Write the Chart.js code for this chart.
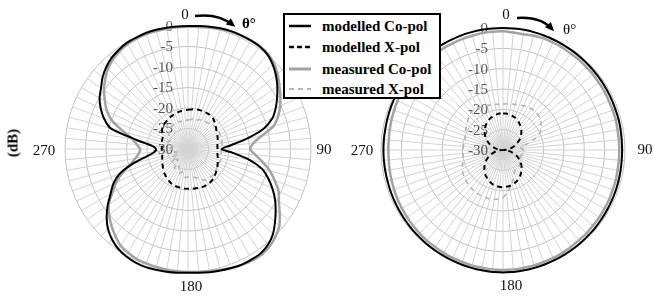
<!DOCTYPE html>
<html>
<head>
<meta charset="utf-8">
<script src="https://cdn.jsdelivr.net/npm/chart.js@4.4.0/dist/chart.umd.min.js"></script>
<style>
  html, body { margin: 0; padding: 0; background: #fff; }
  body { width: 654px; height: 297px; position: relative; overflow: hidden; font-family: "Liberation Serif", "Times New Roman", serif; }
  canvas { position: absolute; top: 0; }
  #cA { left: 0; }
  #cB { left: 330px; }
  #legend { position: absolute; left: 283px; top: 13px; width: 158px; height: 86px; box-sizing: border-box; border: 2px solid #000; background: #fff; z-index: 5; }
  .row { position: absolute; left: 0; height: 20px; width: 100%; }
  .row svg { position: absolute; left: 4px; top: 4px; }
  .row span { position: absolute; left: 37px; top: 0; font-weight: bold; font-size: 15px; line-height: 20px; color: #000; white-space: nowrap; }
  #db { position: absolute; left: 13px; top: 143px; transform: translate(-50%, -50%) rotate(-90deg); font-weight: bold; font-size: 15px; white-space: nowrap; }
</style>
</head>
<body>
<canvas id="cA" width="340" height="297"></canvas>
<canvas id="cB" width="324" height="297"></canvas>
<div id="db">(dB)</div>
<div id="legend"></div>
<script>
// ---- categories (angle in degrees, every 5°) ----
const angles = [0,5,10,15,20,25,30,35,40,45,50,55,60,65,70,75,80,85,
  90,95,100,105,110,115,120,125,130,135,140,145,150,155,160,165,170,175,
  180,185,190,195,200,205,210,215,220,225,230,235,240,245,250,255,260,265,
  270,275,280,285,290,295,300,305,310,315,320,325,330,335,340,345,350,355];

// radial tick labels (dB) and cardinal angle labels
const tickValues = [0, -5, -10, -15, -20, -25, -30];
const cardinalLabels = ['0', '90', '180', '270'];
const cardinalAngles = [0, 90, 180, 270];

const seriesNames = ['modelled Co-pol', 'modelled X-pol', 'measured Co-pol', 'measured X-pol'];

// ---- left plot ----
const leftModelledCo = [0,0.1,0.3,0.5,0.6,0.6,0.6,0.5,0.1,-0.8,-2.0,-3.4,-4.9,-6.4,-8.1,-10.9,-15.4,-19.5,
  -21.8,-19.0,-14.8,-11.3,-9.2,-7.3,-5.5,-3.9,-2.3,-0.7,0.4,1.0,1.1,1.1,0.9,0.7,0.5,0.3,
  0.2,0.3,0.4,0.5,0.6,0.5,0.2,-0.3,-1.2,-2.4,-4.1,-6.1,-8.2,-9.9,-12.2,-16.0,-19.8,-21.8,
  -22.2,-21.2,-17.3,-10.5,-8.2,-6.5,-5.1,-4.1,-2.8,-1.8,-1.0,-0.5,-0.1,0,0.1,0.1,0.05,0];
const leftModelledX = [-20.4,-20.3,-20.2,-20.1,-20.1,-20.1,-20.1,-20.2,-20.4,-20.8,-21.2,-21.6,-21.9,-22.1,-22.3,-22.5,-22.7,-22.8,
  -22.8,-22.8,-22.7,-22.5,-22.3,-22.0,-21.7,-21.4,-21.1,-20.8,-20.5,-20.3,-20.1,-20.1,-20.1,-20.2,-20.2,-20.3,
  -20.3,-20.3,-20.4,-20.4,-20.5,-20.6,-20.9,-21.2,-21.5,-21.8,-22.1,-22.5,-22.8,-23.1,-23.3,-23.5,-23.6,-23.6,
  -23.6,-23.6,-23.5,-23.4,-23.3,-23.2,-22.8,-22.3,-21.8,-21.6,-21.5,-21.3,-21.1,-21.0,-20.9,-20.7,-20.6,-20.5];
const leftMeasuredCo = [-0.2,-0.1,0.1,0.3,0.5,0.6,0.6,0.6,0.3,-0.4,-1.5,-2.8,-4.0,-5.2,-6.6,-8.4,-11.8,-14.0,
  -14.8,-13.5,-11.5,-9.3,-7.5,-5.6,-4.4,-2.7,-0.9,0.2,1.0,1.4,1.4,1.2,0.9,0.5,0.3,0.1,
  0,-0.1,-0.1,-0.2,-0.3,-0.4,-0.8,-1.3,-2.4,-3.6,-4.9,-6.4,-8.7,-10.7,-13.0,-15.4,-17.0,-18.0,
  -18.3,-17.5,-16.3,-13.8,-10.5,-8.2,-6.6,-5.0,-3.6,-2.4,-1.5,-0.9,-0.5,-0.3,-0.2,-0.2,-0.2,-0.2];
const leftMeasuredX = [-22.9,-22.8,-22.6,-22.8,-22.4,-22.2,-22.0,-22.1,-21.8,-21.6,-21.4,-21.3,-21.3,-21.4,-21.5,-21.5,-21.6,-21.7,
  -21.8,-21.9,-21.8,-21.7,-21.6,-21.7,-21.7,-21.5,-21.4,-21.2,-21.2,-21.3,-21.2,-21.8,-22.4,-22.8,-23.0,-23.2,
  -23.2,-23.0,-23.5,-24.3,-23.6,-24.8,-25.5,-24.2,-25.8,-26.5,-25.0,-26.2,-27.0,-25.8,-26.4,-27.2,-26.0,-25.6,
  -26.0,-25.2,-26.3,-25.0,-24.6,-25.2,-24.7,-24.3,-24.0,-23.6,-23.3,-23.2,-23.1,-23.3,-22.9,-23.1,-22.9,-23.0];

// ---- right plot ----
const rightModelledCo = [0,0,0,-0.05,-0.1,-0.15,-0.2,-0.25,-0.3,-0.35,-0.4,-0.45,-0.5,-0.55,-0.6,-0.6,-0.65,-0.7,
  -0.7,-0.7,-0.65,-0.6,-0.55,-0.5,-0.45,-0.4,-0.35,-0.3,-0.25,-0.2,-0.15,-0.1,-0.05,0,0.05,0.1,
  0.1,0.1,0.05,0,-0.05,-0.1,-0.15,-0.2,-0.25,-0.3,-0.35,-0.4,-0.45,-0.5,-0.55,-0.6,-0.6,-0.6,
  -0.6,-0.6,-0.6,-0.55,-0.5,-0.45,-0.4,-0.35,-0.3,-0.25,-0.2,-0.15,-0.1,-0.05,0,0,0,0];
const rightModelledX = [-21.0,-21.0,-21.1,-21.3,-21.5,-21.8,-22.2,-22.6,-23.1,-23.6,-24.2,-24.8,-25.5,-26.2,-26.9,-27.7,-28.4,-29.2,
  -30.0,-29.2,-28.4,-27.6,-26.9,-26.1,-25.4,-24.7,-24.1,-23.5,-23.0,-22.5,-22.1,-21.7,-21.4,-21.1,-21.0,-20.9,
  -20.8,-20.9,-21.0,-21.1,-21.4,-21.7,-22.1,-22.5,-23.0,-23.5,-24.1,-24.7,-25.4,-26.1,-26.9,-27.6,-28.4,-29.2,
  -30.0,-29.2,-28.4,-27.7,-26.9,-26.2,-25.5,-24.8,-24.2,-23.6,-23.1,-22.6,-22.2,-21.8,-21.5,-21.3,-21.1,-21.0];
const rightMeasuredCo = [-0.8,-1.0,-1.1,-0.9,-0.8,-0.9,-0.9,-1.0,-1.0,-1.1,-1.1,-1.2,-1.2,-1.3,-1.3,-1.3,-1.4,-1.4,
  -1.4,-1.4,-1.4,-1.3,-1.3,-1.2,-1.2,-1.1,-1.1,-1.0,-1.0,-0.9,-0.8,-0.7,-0.7,-0.6,-0.6,-0.5,
  -0.5,-0.5,-0.6,-0.6,-0.7,-0.7,-0.8,-0.9,-0.9,-1.0,-1.1,-1.2,-1.3,-1.4,-1.5,-1.6,-1.7,-1.8,
  -1.8,-1.8,-1.7,-1.6,-1.5,-1.4,-1.3,-1.3,-1.2,-1.2,-1.1,-1.1,-1.0,-1.0,-0.9,-0.9,-0.8,-0.8];
const rightMeasuredX = [-18.7,-18.6,-18.5,-18.4,-18.2,-18.0,-17.8,-17.7,-17.7,-17.8,-18.0,-18.6,-19.2,-20.0,-21.5,-23.5,-25.5,-25.5,
  -25.0,-24.8,-25.0,-25.3,-25.5,-25.3,-25.0,-24.8,-24.6,-24.5,-24.5,-24.3,-24.2,-23.5,-22.5,-21.5,-20.5,-19.3,
  -18.3,-17.9,-17.7,-17.5,-17.5,-17.5,-17.6,-17.7,-17.8,-18.0,-18.2,-18.4,-18.6,-19.0,-19.4,-19.8,-20.0,-20.2,
  -20.2,-20.2,-20.3,-20.3,-20.1,-19.8,-19.5,-19.1,-18.7,-18.3,-17.9,-17.8,-18.0,-18.2,-18.4,-18.5,-18.6,-18.7];

// ---- styles ----
const styles = [
  { color: '#000000', width: 2, dash: [] },
  { color: '#000000', width: 2, dash: [5, 4] },
  { color: '#a3a3a3', width: 2.5, dash: [] },
  { color: '#b5b5b5', width: 1.6, dash: [5, 4] }
];

function makeDatasets(arrs) {
  return arrs.map((d, i) => ({
    label: seriesNames[i],
    data: d,
    borderColor: styles[i].color,
    borderWidth: styles[i].width,
    borderDash: styles[i].dash,
    backgroundColor: 'transparent',
    fill: false,
    pointRadius: 0,
    tension: 0.25,
    clip: false
  }));
}

const FONT = '"Liberation Serif", "Times New Roman", serif';

const polarDecor = {
  id: 'polarDecor',
  beforeDatasetsDraw(chart, args, o) {
    const s = chart.scales.r, ctx = chart.ctx;
    ctx.save();
    ctx.font = '15px ' + FONT;
    ctx.fillStyle = '#555555';
    ctx.textAlign = 'right';
    ctx.textBaseline = 'middle';
    tickValues.forEach(v => {
      const d = s.getDistanceFromCenterForValue(v);
      ctx.fillText(String(v), s.xCenter - 15, s.yCenter - d + 1);
    });
    ctx.restore();
  },
  afterDraw(chart, args, o) {
    const s = chart.scales.r, ctx = chart.ctx;
    ctx.save();
    ctx.font = '15px ' + FONT;
    ctx.fillStyle = '#111';
    ctx.textAlign = 'center';
    ctx.textBaseline = 'middle';
    cardinalAngles.forEach((a, k) => {
      const idx = angles.indexOf(a);
      const p = s.getPointPositionForValue(idx, s.max);
      const off = o.labelOffsets[k];
      ctx.fillText(cardinalLabels[k], p.x + off[0], p.y + off[1]);
    });
    // rotation arrow and theta
    const cx = s.xCenter, cy = s.yCenter, ar = o.arrow;
    ctx.strokeStyle = '#000';
    ctx.lineWidth = 2.5;
    ctx.beginPath();
    ctx.moveTo(cx + ar.sx, cy + ar.sy);
    ctx.quadraticCurveTo(cx + ar.cx, cy + ar.cy, cx + ar.ex, cy + ar.ey);
    ctx.stroke();
    const ang = Math.atan2(ar.ey - ar.cy, ar.ex - ar.cx);
    const hx = cx + ar.ex + 3 * Math.cos(ang), hy = cy + ar.ey + 3 * Math.sin(ang);
    ctx.fillStyle = '#000';
    ctx.beginPath();
    ctx.moveTo(hx, hy);
    ctx.lineTo(hx - 9 * Math.cos(ang) + 4 * Math.sin(ang), hy - 9 * Math.sin(ang) - 4 * Math.cos(ang));
    ctx.lineTo(hx - 9 * Math.cos(ang) - 4 * Math.sin(ang), hy - 9 * Math.sin(ang) + 4 * Math.cos(ang));
    ctx.closePath();
    ctx.fill();
    ctx.font = (ar.bold ? 'bold ' : '') + '15px ' + FONT;
    ctx.textAlign = 'left';
    ctx.fillText('\u03b8\u00b0', cx + ar.tx, cy + ar.ty);
    ctx.restore();
  }
};

function makeChart(id, arrs, pad, decor) {
  return new Chart(document.getElementById(id), {
    type: 'radar',
    data: { labels: angles, datasets: makeDatasets(arrs) },
    options: {
      responsive: false,
      maintainAspectRatio: false,
      animation: false,
      devicePixelRatio: 1,
      layout: { padding: pad },
      plugins: { legend: { display: false }, tooltip: { enabled: false }, polarDecor: decor },
      scales: {
        r: {
          min: -30, max: 0,
          startAngle: 0,
          ticks: { display: false, stepSize: 5 },
          grid: { circular: true, color: '#c2c2c2', lineWidth: 1 },
          angleLines: { display: true, color: '#d3d3d3', lineWidth: 1 },
          pointLabels: { display: false }
        }
      }
    },
    plugins: [polarDecor]
  });
}

makeChart('cA', [leftModelledCo, leftModelledX, leftMeasuredCo, leftMeasuredX],
  { left: 65, top: 26, right: 29, bottom: 25 },
  { labelOffsets: [[-3, -11], [13, 1], [3, 15], [-21, 2]],
    arrow: { sx: 7, sy: -133, cx: 30, cy: -136, ex: 45, ey: -124, tx: 54, ty: -125, bold: true } });

makeChart('cB', [rightModelledCo, rightModelledX, rightMeasuredCo, rightMeasuredX],
  { left: 51, top: 28, right: 29, bottom: 25 },
  { labelOffsets: [[3, -13], [20, 0], [8, 14], [-19, 1]],
    arrow: { sx: 14, sy: -132, cx: 37, cy: -134, ex: 49, ey: -121, tx: 60, ty: -120, bold: false } });

// ---- legend (HTML) ----
const legend = document.getElementById('legend');
const rowTops = [1, 22, 44, 64];
seriesNames.forEach((name, i) => {
  const row = document.createElement('div');
  row.className = 'row';
  row.style.top = rowTops[i] + 'px';
  const st = styles[i];
  const dash = st.dash.length ? `stroke-dasharray="${i === 1 ? '5,3' : '5,4'}"` : '';
  row.innerHTML = `<svg width="24" height="12"><line x1="0" y1="6" x2="22" y2="6" stroke="${st.color}" stroke-width="${i === 2 ? 3 : (i === 3 ? 1.8 : 2.5)}" ${dash}/></svg><span>${name}</span>`;
  legend.appendChild(row);
});
</script>
</body>
</html>
